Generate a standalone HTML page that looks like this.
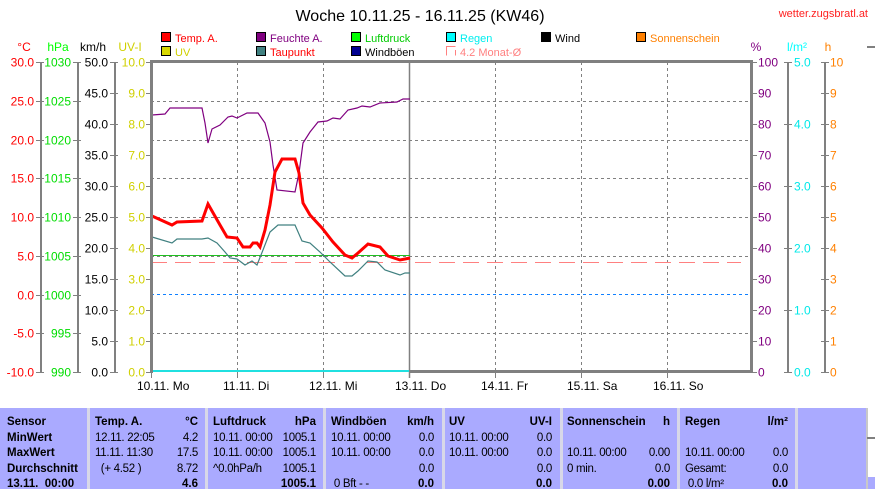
<!DOCTYPE html>
<html><head><meta charset="utf-8"><style>
body{margin:0;width:875px;height:489px;overflow:hidden;background:#fff;font-family:"Liberation Sans",sans-serif}
svg{position:absolute;left:0;top:0}
text{font-family:"Liberation Sans",sans-serif}
</style></head><body>
<svg width="875" height="489" viewBox="0 0 875 489" xmlns="http://www.w3.org/2000/svg">
<text x="420" y="21" font-size="16" text-anchor="middle" fill="#000">Woche 10.11.25 - 16.11.25 (KW46)</text>
<text x="868" y="17" font-size="11" text-anchor="end" fill="#ff2020">wetter.zugsbratl.at</text>
<g font-size="11">
<rect x="161.5" y="32.5" width="9" height="9" fill="#f00" stroke="#000"/><text x="175" y="42" fill="#f00">Temp. A.</text>
<rect x="256.5" y="32.5" width="9" height="9" fill="#800080" stroke="#000"/><text x="270" y="42" fill="#800080">Feuchte A.</text>
<rect x="351.5" y="32.5" width="9" height="9" fill="#0f0" stroke="#000"/><text x="365" y="42" fill="#0c0">Luftdruck</text>
<rect x="446.5" y="32.5" width="9" height="9" fill="#0ff" stroke="#000"/><text x="460" y="42" fill="#0ee">Regen</text>
<rect x="541.5" y="32.5" width="9" height="9" fill="#000" stroke="#000"/><text x="555" y="42" fill="#000">Wind</text>
<rect x="636.5" y="32.5" width="9" height="9" fill="#ff8000" stroke="#000"/><text x="650" y="42" fill="#ff8000">Sonnenschein</text>
<rect x="161.5" y="46.5" width="9" height="9" fill="#d8d800" stroke="#000"/><text x="175" y="56" fill="#d0d000">UV</text>
<rect x="256.5" y="46.5" width="9" height="9" fill="#408080" stroke="#000"/><text x="270" y="56" fill="#f00">Taupunkt</text>
<rect x="351.5" y="46.5" width="9" height="9" fill="#000090" stroke="#000"/><text x="365" y="56" fill="#000">Windböen</text>
<path d="M446.5 55.5V46.5H455.5M455.5 50V55.5" fill="none" stroke="#ff8080"/><text x="460" y="56" fill="#ff8080">4.2 Monat-Ø</text>
</g>
<g font-size="12">
<text x="24" y="51" fill="#f00" text-anchor="middle">°C</text>
<text x="58" y="51" fill="#0f0" text-anchor="middle">hPa</text>
<text x="93" y="51" fill="#000" text-anchor="middle">km/h</text>
<text x="130" y="51" fill="#d0d000" text-anchor="middle">UV-I</text>
<text x="756" y="51" fill="#800080" text-anchor="middle">%</text>
<text x="797" y="51" fill="#0ff" text-anchor="middle">l/m²</text>
<text x="828" y="51" fill="#ff8000" text-anchor="middle">h</text>
</g>
<g stroke="#808080" stroke-width="2">
<line x1="41" y1="62" x2="41" y2="372"/><line x1="78" y1="62" x2="78" y2="372"/><line x1="115" y1="62" x2="115" y2="372"/>
<line x1="788" y1="62" x2="788" y2="372"/><line x1="825" y1="62" x2="825" y2="372"/>
<line x1="867" y1="47" x2="875" y2="47"/>
</g>
<g id="ticks" stroke="#808080" stroke-width="1"></g>
<g id="labels" font-size="12"></g>
<g stroke="#808080" stroke-width="1" stroke-dasharray="3,3" fill="none">
<path d="M151 101.5H751M151 140.5H751M151 178.5H751M151 217.5H751M151 256.5H751M151 333.5H751"/>
<path d="M237.5 62V372M323.5 62V372M495.5 62V372M581.5 62V372M667.5 62V372"/>
</g>
<line x1="151" y1="294.5" x2="751" y2="294.5" stroke="#1080ff" stroke-dasharray="3,3"/>
<line x1="409.5" y1="62" x2="409.5" y2="378" stroke="#808080" stroke-width="1.5"/>
<line x1="151" y1="262.5" x2="741" y2="262.5" stroke="#ff8080" stroke-dasharray="16,8"/>
<line x1="151" y1="255.5" x2="410" y2="255.5" stroke="#20c020"/>
<polyline fill="none" stroke="#800080" stroke-width="1.2" points="152,115 165,114 170,108 202,108 205,123 208,143 212,129 220,125 228,117 232,116 237,118 247,113 258,113 265,123 270,142 273,165 277,190 295,192 299,173 303,143 310,132 318,122 327,121 333,118 340,119 348,110 357,108 362,106 370,107 380,103 397,102 403,99 410,99"/>
<polyline fill="none" stroke="#408080" stroke-width="1.2" points="152,237 172,243 177,239 202,239 208,238 217,243 225,252 230,258 237,259 245,265 252,261 257,265 263,250 270,232 278,225 295,225 302,241 310,243 320,252 330,262 345,276 352,276 358,271 368,261 377,262 385,270 400,275 405,273 410,273"/>
<polyline fill="none" stroke="#f00" stroke-width="3" points="152,216 172,225 177,222 202,221 208,204 220,225 227,237 237,238 243,247 250,247 253,243 257,243 260,247 265,230 270,205 275,172 282,159 295,159 299,173 303,203 310,215 322,228 333,242 345,255 352,258 358,253 368,244 380,247 388,256 400,260 405,259 410,258"/>
<line x1="151" y1="371" x2="409" y2="371" stroke="#20e0e0" stroke-width="2"/>
<line x1="409" y1="371.5" x2="751" y2="371.5" stroke="#808080" stroke-width="3"/>
<rect x="150" y="60" width="601" height="3" fill="#808080"/>
<rect x="150" y="60" width="3" height="313" fill="#808080"/>
<rect x="750" y="60" width="3" height="313" fill="#808080"/>
<g font-size="12" fill="#000">
<text x="137" y="390">10.11.  Mo</text><text x="223" y="390">11.11.  Di</text><text x="309" y="390">12.11.  Mi</text><text x="395" y="390">13.11.  Do</text><text x="481" y="390">14.11.  Fr</text><text x="567" y="390">15.11.  Sa</text><text x="653" y="390">16.11.  So</text>
</g>
<g stroke="#808080"><path d="M237.5 372V378M323.5 372V378M495.5 372V378M581.5 372V378M667.5 372V378M151.5 372V378"/></g>
</svg>
<script>
(function(){
var t=document.getElementById('ticks'),l=document.getElementById('labels'),ns='http://www.w3.org/2000/svg';
function tick(x1,x2,y){var e=document.createElementNS(ns,'line');e.setAttribute('x1',x1);e.setAttribute('x2',x2);e.setAttribute('y1',y+.5);e.setAttribute('y2',y+.5);t.appendChild(e);}
function lab(x,y,s,c,a){var e=document.createElementNS(ns,'text');e.setAttribute('x',x);e.setAttribute('y',y+4.5);e.setAttribute('fill',c);e.setAttribute('text-anchor',a);e.textContent=s;l.appendChild(e);}
for(var i=0;i<=8;i++){var y=Math.round(62+i*38.75);
tick(36,44,y);lab(34,y,(30-5*i).toFixed(1),'#f00','end');
tick(73,81,y);lab(71,y,String(1030-5*i),'#0d0','end');}
for(var i=0;i<=10;i++){var y=Math.round(62+i*31);
tick(110,118,y);lab(108,y,(50-5*i).toFixed(1),'#000','end');
tick(146,151,y);lab(145,y,(10-i).toFixed(1),'#d0d000','end');
tick(751,757,y);lab(758,y,String(100-10*i),'#800080','start');
tick(821,829,y);lab(830,y,String(10-i),'#ff8000','start');}
for(var i=0;i<=5;i++){var y=Math.round(62+i*62);tick(784,792,y);lab(794,y,(5-i).toFixed(1),'#00e8e8','start');}
})();
</script>
<div style="position:absolute;left:0;top:408px;width:866px;height:81px;background:#aaaaff"></div>
<div style="position:absolute;left:866px;top:408px;width:2px;height:81px;background:#c8c8c8"></div>
<div style="position:absolute;left:868px;top:477px;width:7px;height:12px;background:#aaaaff"></div>
<div style="position:absolute;left:867px;top:437px;width:8px;height:2px;background:#808080"></div>
<div id="tbl" style="position:absolute;left:0;top:408px;width:866px;height:81px;font-size:11.5px;line-height:15.5px;color:#000"></div>
<script>
(function(){
var T=document.getElementById('tbl');
var seps=[87,205,323,442,560,677,795];
seps.forEach(function(x){var d=document.createElement('div');d.style.cssText='position:absolute;top:0;height:81px;width:3px;background:#d8d8e8;left:'+x+'px';T.appendChild(d);});
function txt(x,row,s,b,right){var d=document.createElement('div');d.textContent=s;d.style.cssText='position:absolute;white-space:pre;top:'+(7+row*15.5)+'px;'+(right?'right:'+(866-x)+'px;':'left:'+x+'px;')+(b?'font-weight:bold;':'letter-spacing:-0.3px;');T.appendChild(d);}
['Sensor','MinWert','MaxWert','Durchschnitt','13.11.  00:00'].forEach(function(s,i){txt(7,i,s,1);});
var cols=[
[95,198,'Temp. A.','°C',['12.11. 22:05','11.11. 11:30','  (+ 4.52 )',''],['4.2','17.5','8.72','4.6']],
[213,316,'Luftdruck','hPa',['10.11. 00:00','10.11. 00:00','^0.0hPa/h',''],['1005.1','1005.1','1005.1','1005.1']],
[331,434,'Windböen','km/h',['10.11. 00:00','10.11. 00:00','',' 0 Bft - -'],['0.0','0.0','0.0','0.0']],
[449,552,'UV','UV-I',['10.11. 00:00','10.11. 00:00','',''],['0.0','0.0','0.0','0.0']],
[567,670,'Sonnenschein','h',['','10.11. 00:00','0 min.',''],['','0.00','0.0','0.00']],
[685,788,'Regen','l/m²',['','10.11. 00:00','Gesamt:',' 0.0 l/m²'],['','0.0','0.0','0.0']]];
cols.forEach(function(c){txt(c[0],0,c[2],1);txt(c[1],0,c[3],1,1);
for(var i=0;i<4;i++){if(c[4][i])txt(c[0],i+1,c[4][i]);if(c[5][i])txt(c[1],i+1,c[5][i],i==3,1);}});
})();
</script>
</body></html>
